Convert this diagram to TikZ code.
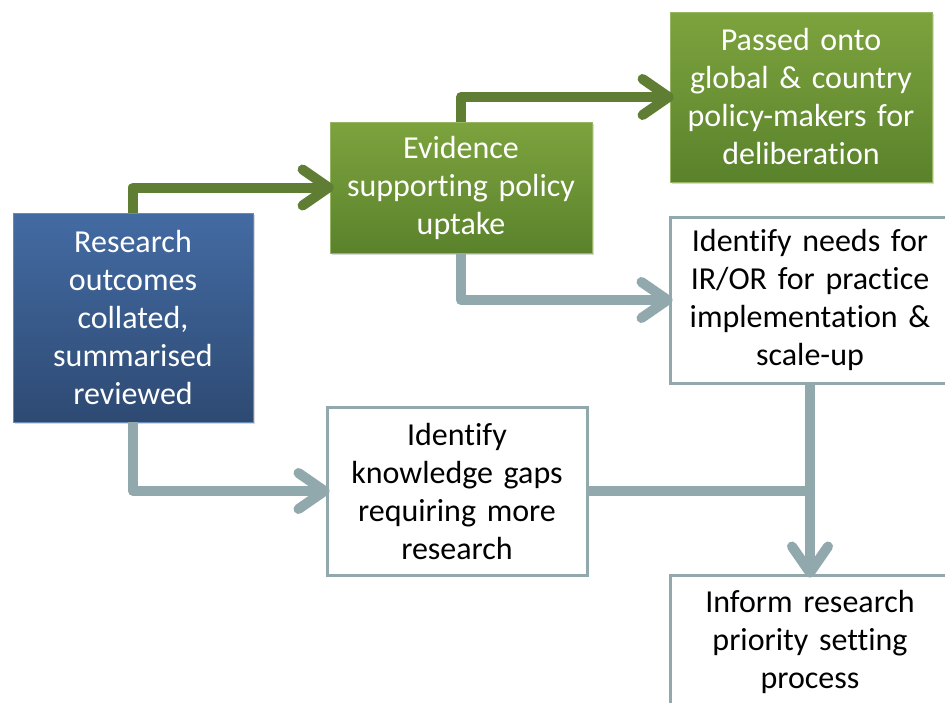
\documentclass[tikz,border=0pt]{standalone}
\usepackage{fontspec}
\setmainfont{Carlito}[Ligatures={NoCommon}]
\usetikzlibrary{arrows.meta,shadows}
\definecolor{bluetop}{HTML}{436BA3}
\definecolor{bluebot}{HTML}{2E4A73}
\definecolor{greentop}{HTML}{7DA33E}
\definecolor{greenbot}{HTML}{5A822B}
\definecolor{garrowc}{HTML}{5F7D33}
\definecolor{grayc}{HTML}{91A8AD}
\tikzset{
  box/.style={rectangle, align=center, inner sep=0pt, font=\fontsize{32}{38}\selectfont},
  bluebox/.style={box, top color=bluetop, bottom color=bluebot, draw=bluetop!80!white, line width=0.8pt, text=white,
    drop shadow={shadow xshift=2pt, shadow yshift=-2pt, opacity=0.3}},
  greenbox/.style={box, top color=greentop, bottom color=greenbot, draw=greentop!80!white, line width=0.8pt, text=white,
    drop shadow={shadow xshift=2pt, shadow yshift=-2pt, opacity=0.3}},
  whitebox/.style={box, fill=white, draw=grayc, line width=3pt, text=black},
  garrow/.style={draw=garrowc, line width=10pt, line join=round, shorten >=-4pt,
    -{Straight Barb[length=26pt, width=36pt, round]}},
  grarrow/.style={draw=grayc, line width=10pt, line join=round, shorten >=-4pt,
    -{Straight Barb[length=26pt, width=36pt, round]}},
  grline/.style={draw=grayc, line width=10pt, line join=round}
}
\begin{document}
\begin{tikzpicture}[x=1pt, y=-1pt]
\clip (0,0) rectangle (945,702);
\fill[white] (0,0) rectangle (945,702);

\node[bluebox, minimum width=240pt, minimum height=209pt, text width=230pt] (blue) at (133,317.5)
  {Research\\outcomes\\collated,\\summarised\\reviewed};
\node[greenbox, minimum width=262pt, minimum height=131pt, text width=250pt] (ev) at (461,187.5)
  {Evidence\\supporting policy\\uptake};
\node[greenbox, minimum width=262pt, minimum height=170pt, text width=250pt] (pass) at (801,97)
  {Passed onto\\global \& country\\policy-makers for\\deliberation};
\node[whitebox, minimum width=280pt, minimum height=166pt, text width=270pt] (needs) at (810,300)
  {Identify needs for\\IR/OR for practice\\implementation \&\\scale-up};
\node[whitebox, minimum width=260pt, minimum height=168pt, text width=250pt] (gaps) at (457,491)
  {Identify\\knowledge gaps\\requiring more\\research};
\node[whitebox, minimum width=280pt, minimum height=134pt, text width=270pt] (inform) at (810,642)
  {Inform research\\priority setting\\process};

\draw[garrow] (blue.north) |- (ev.west);
\draw[garrow] (ev.north) |- (pass.west);
\draw[grarrow] (ev.south) |- (needs.west);
\draw[grarrow] (blue.south) |- (gaps.west);
\draw[grline] (gaps.east) -- (needs.south |- gaps.east);
\draw[grarrow] (needs.south) -- (inform.north);
\end{tikzpicture}
\end{document}
